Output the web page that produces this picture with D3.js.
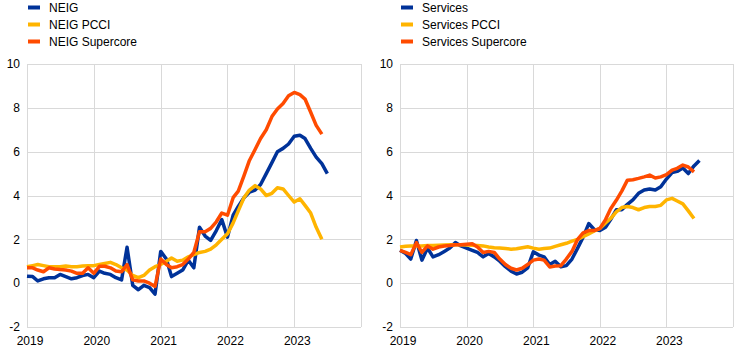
<!DOCTYPE html>
<html><head><meta charset="utf-8">
<script src="https://cdn.jsdelivr.net/npm/d3@7"></script>
<style>
html,body{margin:0;padding:0;background:#fff;}
svg text{font-family:Arial,"Liberation Sans",sans-serif;font-size:12px;fill:#000;}
</style></head>
<body>
<svg id="chart" width="744" height="357"></svg>
<script>
// Monthly data starting January 2019
const startYear = 2019;
const yTicks = [-2, 0, 2, 4, 6, 8, 10];
const xTickYears = ["2019", "2020", "2021", "2022", "2023"];

const leftNames = ["NEIG", "NEIG PCCI", "NEIG Supercore"];
const rightNames = ["Services", "Services PCCI", "Services Supercore"];
const colors = ["#003299", "#ffb400", "#ff4b00"];

const neig = [0.32,0.3,0.1,0.2,0.25,0.25,0.4,0.3,0.2,0.25,0.35,0.4,
  0.25,0.55,0.45,0.4,0.25,0.15,1.64,-0.1,-0.3,-0.1,-0.2,-0.5,
  1.45,1.1,0.3,0.45,0.6,1.05,0.7,2.55,2.15,1.95,2.4,2.9,
  2.1,3.1,3.5,3.9,4.15,4.25,4.5,5.0,5.5,6.0,6.15,6.35,
  6.7,6.75,6.6,6.15,5.75,5.45,5.0];
const neigPcci = [0.75,0.8,0.85,0.8,0.75,0.75,0.75,0.78,0.75,0.75,0.78,0.8,
  0.8,0.85,0.9,0.95,0.85,0.7,0.6,0.35,0.25,0.35,0.6,0.75,
  0.85,1.0,1.15,1.0,1.05,1.2,1.3,1.4,1.45,1.55,1.75,2.0,
  2.25,2.75,3.3,3.9,4.25,4.45,4.3,4.0,4.1,4.35,4.3,4.0,
  3.7,3.85,3.55,3.2,2.55,2.0];
const neigSuper = [0.7,0.7,0.6,0.52,0.7,0.65,0.62,0.6,0.55,0.45,0.45,0.7,
  0.45,0.77,0.77,0.7,0.55,0.52,0.85,0.15,0.1,0.1,0.0,-0.15,
  1.1,0.85,0.7,0.75,0.85,1.1,1.4,2.35,2.35,2.5,2.8,3.2,
  3.1,3.9,4.2,4.9,5.6,6.1,6.6,7.0,7.6,7.95,8.2,8.55,
  8.7,8.6,8.4,7.8,7.2,6.8];

const services = [1.5,1.35,1.1,1.95,1.05,1.6,1.2,1.3,1.45,1.6,1.85,1.7,
  1.6,1.5,1.4,1.2,1.35,1.2,1.0,0.75,0.55,0.42,0.5,0.7,
  1.43,1.28,1.2,0.85,1.0,0.75,0.8,1.1,1.6,2.1,2.72,2.45,
  2.4,2.55,2.9,3.35,3.35,3.6,3.8,4.1,4.25,4.3,4.25,4.4,
  4.75,5.05,5.1,5.25,5.0,5.35,5.6];
const servicesPcci = [1.65,1.68,1.7,1.7,1.7,1.72,1.72,1.73,1.74,1.75,1.75,1.75,
  1.74,1.73,1.72,1.7,1.65,1.62,1.6,1.58,1.55,1.57,1.62,1.66,
  1.6,1.55,1.58,1.6,1.68,1.75,1.82,1.92,2.0,2.12,2.25,2.38,
  2.5,2.75,2.95,3.25,3.45,3.5,3.45,3.35,3.45,3.5,3.5,3.55,
  3.8,3.87,3.75,3.62,3.3,2.95];
const servicesSuper = [1.5,1.4,1.3,1.85,1.4,1.7,1.55,1.65,1.7,1.72,1.75,1.75,
  1.78,1.8,1.65,1.4,1.45,1.4,1.1,0.85,0.68,0.6,0.68,0.85,
  1.05,1.1,1.05,0.74,0.78,0.8,1.1,1.45,2.0,2.3,2.4,2.4,
  2.5,2.9,3.4,3.78,4.2,4.7,4.72,4.78,4.85,4.93,4.8,4.85,
  4.95,5.16,5.24,5.39,5.3,5.08];

const svg = d3.select("#chart");

function panel(x0, x1, names, seriesList) {
  const x = d3.scaleTime()
    .domain([new Date(startYear, 0, 1), new Date(startYear + 5, 0, 1)])
    .range([x0, x1]);
  const y = d3.scaleLinear().domain([-2, 10]).range([327, 64]);
  const g = svg.append("g");

  // horizontal grid
  g.selectAll(".hg").data(yTicks).enter().append("line")
    .attr("x1", x0).attr("x2", x1)
    .attr("y1", d => Math.round(y(d)) + 0.5).attr("y2", d => Math.round(y(d)) + 0.5)
    .attr("stroke", "#d9d9d9").attr("stroke-width", 1);
  // vertical grid
  const years = d3.range(startYear, startYear + 6).map(yr => new Date(yr, 0, 1));
  g.selectAll(".vg").data(years).enter().append("line")
    .attr("x1", d => Math.round(x(d)) + 0.5).attr("x2", d => Math.round(x(d)) + 0.5)
    .attr("y1", y(10)).attr("y2", y(-2))
    .attr("stroke", "#d9d9d9").attr("stroke-width", 1);

  // y labels
  g.selectAll(".yl").data(yTicks).enter().append("text")
    .attr("x", x0 - 7).attr("y", d => y(d)).attr("dy", "0.35em")
    .attr("text-anchor", "end").text(d => d);
  // x labels
  g.selectAll(".xl").data(xTickYears).enter().append("text")
    .attr("x", d => x(new Date(+d, 0, 1)) + 3).attr("y", 345)
    .attr("text-anchor", "middle").text(d => d);

  const line = d3.line()
    .x((d, i) => x(new Date(startYear, i, 1)))
    .y(d => y(d))
    .curve(d3.curveLinear);

  seriesList.forEach((s, k) => {
    g.append("path").datum(s)
      .attr("fill", "none").attr("stroke", colors[k])
      .attr("stroke-width", 3.5).attr("stroke-linejoin", "round")
      .attr("d", line);
  });

  // legend
  names.forEach((n, k) => {
    const ly = 7.5 + k * 17;
    g.append("rect").attr("x", x0 + 1).attr("y", ly - 2).attr("width", 12).attr("height", 4)
      .attr("fill", colors[k]);
    g.append("text").attr("x", x0 + 22).attr("y", ly).attr("dy", "0.35em").text(n);
  });
}

panel(27, 361, leftNames, [neig, neigPcci, neigSuper]);
panel(400, 733, rightNames, [services, servicesPcci, servicesSuper]);
</script>
</body></html>
